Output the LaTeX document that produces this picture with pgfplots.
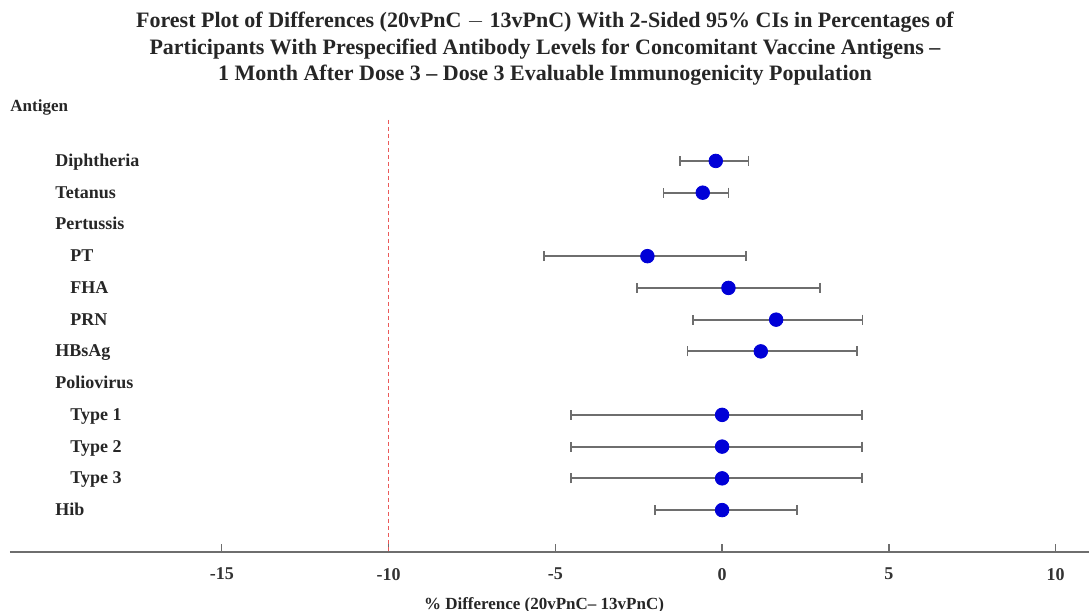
\documentclass[border=0pt]{standalone}
\usepackage{pgfplots}
\pgfplotsset{compat=1.18}
\usepackage{pgfplotstable}
\usepackage{fontspec}
\setmainfont{Liberation Serif}
\definecolor{ptblue}{RGB}{0,0,215}
\definecolor{bargray}{RGB}{110,110,110}
\definecolor{refred}{RGB}{235,90,90}
\pgfplotstableread{
r m lo hi
-1 -0.19 -1.26 0.79
-2 -0.58 -1.76 0.19
-4 -2.24 -5.33 0.72
-5 0.19 -2.55 2.94
-6 1.62 -0.88 4.21
-7 1.16 -1.04 4.04
-9 0.00 -4.54 4.19
-10 0.00 -4.54 4.19
-11 0.00 -4.54 4.19
-12 0.00 -2.01 2.24
}\forestdata
\begin{document}
\begin{tikzpicture}
\path[use as bounding box] (-5pt,-29.5pt) rectangle (539.5pt,276pt);
\begin{axis}[
  at={(0pt,0pt)}, anchor=south west,
  scale only axis, width=539.5pt, height=216pt,
  xmin=-21.35, xmax=11.0, ymin=-13.32, ymax=0.29,
  axis x line*=bottom, axis y line=none,
  x axis line style={draw=bargray, line width=1.1pt, -},
  xtick={-15,-10,-5,0,5,10},
  xtick align=inside, major tick length=4pt,
  xtick style={draw=bargray, line width=0.7pt},
  /pgf/number format/assume math mode=true,
  xticklabel style={font=\fontsize{9}{10}\selectfont\bfseries, text=black!80, yshift=-4.5pt},
  clip=false,
]
\addplot[refred, dash pattern=on 2pt off 1.5pt, line width=0.8pt, forget plot] coordinates {(-10,0.29) (-10,-13.32)};
\addplot[draw=none, mark=none, forget plot,
  error bars/.cd, x dir=both, x explicit,
  error bar style={bargray, line width=0.9pt},
  error mark options={bargray, line width=0.9pt, mark size=2.5pt, rotate=90}]
  table[x=m, y=r, x error plus expr=\thisrow{hi}-\thisrow{m}, x error minus expr=\thisrow{m}-\thisrow{lo}] {\forestdata};
\addplot[only marks, mark=*, mark size=3.4pt, ptblue, mark options={fill=ptblue, draw=ptblue}]
  table[x=m, y=r] {\forestdata};
\begin{scope}[every node/.style={anchor=west, font=\fontsize{9}{10}\selectfont\bfseries, text=black!85, inner sep=0pt, text height=1.45ex, text depth=0.25ex}]
\node at (axis cs:-20.0,-1) {Diphtheria};
\node at (axis cs:-20.0,-2) {Tetanus};
\node at (axis cs:-20.0,-3) {Pertussis};
\node at (axis cs:-19.55,-4) {PT};
\node at (axis cs:-19.55,-5) {FHA};
\node at (axis cs:-19.55,-6) {PRN};
\node at (axis cs:-20.0,-7) {HBsAg};
\node at (axis cs:-20.0,-8) {Poliovirus};
\node at (axis cs:-19.55,-9) {Type 1};
\node at (axis cs:-19.55,-10) {Type 2};
\node at (axis cs:-19.55,-11) {Type 3};
\node at (axis cs:-20.0,-12) {Hib};
\end{scope}
\end{axis}
\node[anchor=west, font=\fontsize{8.5}{10}\selectfont\bfseries, text=black!85, inner sep=0pt] at (0pt,222.5pt) {Antigen};
\node[font=\fontsize{11}{13.2}\selectfont\bfseries, text=black!85, align=center, anchor=north, inner sep=0pt] at (267.5pt,270pt)
 {Forest Plot of Differences (20vPnC $-$ 13vPnC) With 2-Sided 95\% CIs in Percentages of\\
  Participants With Prespecified Antibody Levels for Concomitant Vaccine Antigens --\\
  1 Month After Dose 3 -- Dose 3 Evaluable Immunogenicity Population};
\node[font=\fontsize{8.5}{10}\selectfont\bfseries, text=black!85, inner sep=0pt] at (267pt,-26.5pt) {\% Difference (20vPnC-- 13vPnC)};
\end{tikzpicture}
\end{document}
